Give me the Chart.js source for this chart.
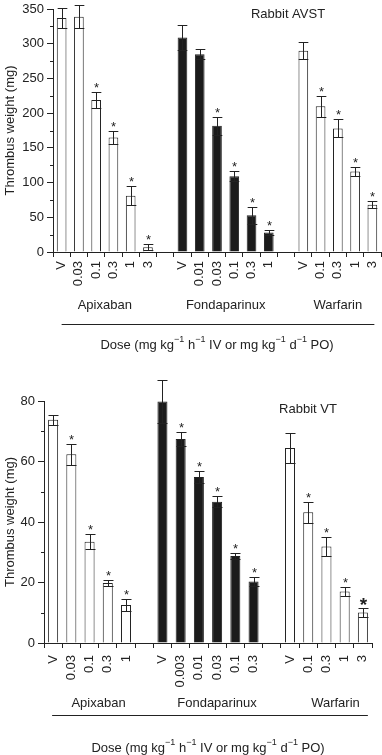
<!DOCTYPE html>
<html>
<head>
<meta charset="utf-8">
<script src="https://cdn.jsdelivr.net/npm/chart.js@4.4.1/dist/chart.umd.min.js"></script>
<style>
  html, body { margin: 0; padding: 0; background: #fff; }
  body { width: 382px; height: 755px; position: relative; overflow: hidden; }
  canvas { position: absolute; left: 0; }
</style>
</head>
<body>
<canvas id="avst" width="382" height="362" style="top:0px"></canvas>
<canvas id="vt" width="382" height="385" style="top:370px"></canvas>
<script>
// ---------- Rabbit AVST (top panel) ----------
const avstGroupNames = ['Apixaban', 'Fondaparinux', 'Warfarin'];
const avstApixabanDoses = ['V', '0.03', '0.1', '0.3', '1', '3'];
const avstApixabanMean  = [337, 339, 219, 165, 81, 7];
const avstApixabanSem   = [15, 17, 12, 10, 14, 4];
const avstApixabanSig   = [0, 0, 1, 1, 1, 1];
const avstFondaDoses = ['V', '0.01', '0.03', '0.1', '0.3', '1'];
const avstFondaMean  = [309, 285, 182, 109, 53, 28];
const avstFondaSem   = [18, 7, 13, 7, 12, 4];
const avstFondaSig   = [0, 0, 1, 1, 1, 1];
const avstWarfDoses = ['V', '0.1', '0.3', '1', '3'];
const avstWarfMean  = [290, 210, 178, 116, 68];
const avstWarfSem   = [12, 15, 13, 7, 5];
const avstWarfSig   = [0, 1, 1, 1, 1];
const avstYTicks = [0, 50, 100, 150, 200, 250, 300, 350];

// ---------- Rabbit VT (bottom panel) ----------
const vtGroupNames = ['Apixaban', 'Fondaparinux', 'Warfarin'];
const vtApixabanDoses = ['V', '0.03', '0.1', '0.3', '1'];
const vtApixabanMean  = [73.8, 62.4, 33.5, 19.8, 12.6];
const vtApixabanSem   = [1.7, 3.5, 2.4, 1.1, 1.9];
const vtApixabanSig   = [0, 1, 1, 1, 1];
const vtFondaDoses = ['V', '0.003', '0.01', '0.03', '0.1', '0.3'];
const vtFondaMean  = [79.8, 67.4, 54.9, 46.7, 28.8, 20.3];
const vtFondaSem   = [7, 2.4, 2.0, 1.9, 0.9, 1.5];
const vtFondaSig   = [0, 1, 1, 1, 1, 1];
const vtWarfDoses = ['V', '0.1', '0.3', '1', '3'];
const vtWarfMean  = [64.5, 43.2, 31.9, 17.0, 10.1];
const vtWarfSem   = [5, 3.5, 3.3, 1.5, 1.4];
const vtWarfSig   = [0, 1, 1, 1, 2];
const vtYTicks = [0, 20, 40, 60, 80];

const yTitle = 'Thrombus weight (mg)';
const FONT = '"Liberation Sans", Arial, Helvetica, sans-serif';
const INK = '#222';

function buildPanel(groups) {
  const labels = [], means = [], sems = [], sigs = [], fills = [], borders = [], ranges = [];
  groups.forEach((g, gi) => {
    if (gi > 0) { labels.push(''); means.push(null); sems.push(null); sigs.push(0); fills.push('#fff'); borders.push(0); }
    const start = labels.length;
    g.doses.forEach((d, i) => {
      labels.push(d); means.push(g.mean[i]); sems.push(g.sem[i]); sigs.push(g.sig[i]);
      fills.push(g.filled ? '#1b1b1b' : '#ffffff');
      borders.push(1);
    });
    ranges.push({ name: g.name, start, end: labels.length - 1 });
  });
  return { labels, means, sems, sigs, fills, borders, ranges };
}

const avstPanel = buildPanel([
  { name: avstGroupNames[0], doses: avstApixabanDoses, mean: avstApixabanMean, sem: avstApixabanSem, sig: avstApixabanSig, filled: false },
  { name: avstGroupNames[1], doses: avstFondaDoses, mean: avstFondaMean, sem: avstFondaSem, sig: avstFondaSig, filled: true },
  { name: avstGroupNames[2], doses: avstWarfDoses, mean: avstWarfMean, sem: avstWarfSem, sig: avstWarfSig, filled: false }
]);
const vtPanel = buildPanel([
  { name: vtGroupNames[0], doses: vtApixabanDoses, mean: vtApixabanMean, sem: vtApixabanSem, sig: vtApixabanSig, filled: false },
  { name: vtGroupNames[1], doses: vtFondaDoses, mean: vtFondaMean, sem: vtFondaSem, sig: vtFondaSig, filled: true },
  { name: vtGroupNames[2], doses: vtWarfDoses, mean: vtWarfMean, sem: vtWarfSem, sig: vtWarfSig, filled: false }
]);

const doseTitle = [
  ['Dose (mg kg', 0], ['\u22121', 1], [' h', 0], ['\u22121', 1], [' IV or mg kg', 0],
  ['\u22121', 1], [' d', 0], ['\u22121', 1], [' PO)', 0]
];

function drawRich(ctx, segs, cx, cy) {
  const big = '13px ' + FONT, small = '9px ' + FONT;
  let w = 0;
  segs.forEach(s => { ctx.font = s[1] ? small : big; w += ctx.measureText(s[0]).width; });
  let x = cx - w / 2;
  ctx.textAlign = 'left';
  ctx.textBaseline = 'middle';
  segs.forEach(s => {
    ctx.font = s[1] ? small : big;
    ctx.fillText(s[0], x, s[1] ? cy - 5 : cy);
    x += ctx.measureText(s[0]).width;
  });
}

function makeChart(id, panel, cfg) {
  const errPlugin = {
    id: 'err_' + id,
    afterDatasetsDraw(chart) {
      const ctx = chart.ctx;
      const meta = chart.getDatasetMeta(0);
      const ys = chart.scales.y;
      ctx.save();
      ctx.strokeStyle = INK;
      ctx.fillStyle = INK;
      ctx.lineWidth = 1;
      panel.means.forEach((m, i) => {
        if (m === null) return;
        const bar = meta.data[i];
        const x = Math.round(bar.x) + 0.5;
        const half = bar.width / 2;
        const yt = Math.round(ys.getPixelForValue(m + panel.sems[i])) + 0.5;
        const yb = Math.round(ys.getPixelForValue(m - panel.sems[i])) + 0.5;
        ctx.beginPath();
        ctx.moveTo(x, yb); ctx.lineTo(x, yt);
        ctx.moveTo(x - half, yt); ctx.lineTo(x + half, yt);
        ctx.moveTo(x - half, yb); ctx.lineTo(x + half, yb);
        ctx.stroke();
        if (panel.sigs[i]) {
          ctx.textAlign = 'center';
          ctx.textBaseline = 'alphabetic';
          if (panel.sigs[i] === 2) {
            ctx.font = 'bold 19px ' + FONT;
            ctx.fillText('*', x, yt + 2);
          } else {
            ctx.font = '13px ' + FONT;
            ctx.fillText('*', x, yt - 1);
          }
        }
      });
      // minor y ticks
      const major = cfg.ticks;
      ctx.beginPath();
      for (let k = 0; k < major.length - 1; k++) {
        const v = (major[k] + major[k + 1]) / 2;
        const y = Math.round(ys.getPixelForValue(v)) + 0.5;
        ctx.moveTo(chart.chartArea.left - 3, y);
        ctx.lineTo(chart.chartArea.left, y);
      }
      ctx.stroke();
      ctx.restore();
    },
    afterDraw(chart) {
      const ctx = chart.ctx;
      const xs = chart.scales.x;
      const bottom = chart.chartArea.bottom;
      ctx.save();
      ctx.fillStyle = INK;
      ctx.strokeStyle = INK;
      ctx.font = '13px ' + FONT;
      ctx.textAlign = 'center';
      ctx.textBaseline = 'middle';
      panel.ranges.forEach(r => {
        const cx = (xs.getPixelForValue(r.start) + xs.getPixelForValue(r.end)) / 2 + cfg.groupDx;
        ctx.fillText(r.name, cx, bottom + cfg.groupDy);
      });
      const x0 = xs.getPixelForValue(0) + cfg.lineDx0;
      const x1 = xs.getPixelForValue(panel.labels.length - 1) + cfg.lineDx1;
      const ly = Math.round(bottom + cfg.lineDy) + 0.5;
      ctx.lineWidth = 1;
      ctx.beginPath(); ctx.moveTo(x0, ly); ctx.lineTo(x1, ly); ctx.stroke();
      const ca = chart.chartArea;
      drawRich(ctx, doseTitle, (ca.left + ca.right) / 2, bottom + cfg.titleDy);
      ctx.font = '13px ' + FONT;
      ctx.textAlign = 'center';
      ctx.fillText(cfg.panelTitle, cfg.panelTitleX, cfg.panelTitleY);
      ctx.restore();
    }
  };

  return new Chart(document.getElementById(id), {
    type: 'bar',
    data: {
      labels: panel.labels,
      datasets: [{
        data: panel.means,
        backgroundColor: panel.fills,
        borderColor: INK,
        borderWidth: panel.borders,
        borderSkipped: 'start',
        barPercentage: cfg.barPct,
        categoryPercentage: 1
      }]
    },
    options: {
      responsive: false,
      animation: false,
      devicePixelRatio: 1,
      layout: { padding: { top: cfg.padTop, right: cfg.padRight, bottom: 0, left: 0 } },
      plugins: { legend: { display: false }, tooltip: { enabled: false }, title: { display: false } },
      scales: {
        x: {
          offset: true,
          grid: { display: true, drawOnChartArea: false, offset: true, tickLength: 5, color: INK, lineWidth: 1 },
          border: { display: true, color: INK, width: 1 },
          ticks: { autoSkip: false, maxRotation: 90, minRotation: 90, padding: cfg.xPad, color: INK, font: { family: FONT, size: 13 } },
          afterFit: s => { s.height = cfg.xHeight; s.paddingLeft = 0; s.paddingRight = 0; }
        },
        y: {
          min: 0, max: cfg.ticks[cfg.ticks.length - 1],
          afterBuildTicks: s => { s.ticks = cfg.ticks.map(v => ({ value: v })); },
          grid: { display: true, drawOnChartArea: false, tickLength: 6, color: INK, lineWidth: 1 },
          border: { display: true, color: INK, width: 1 },
          ticks: { padding: 3, color: INK, font: { family: FONT, size: 13 } },
          title: { display: true, text: yTitle, color: INK, font: { family: FONT, size: 13 }, padding: { top: 3, bottom: 0 } },
          afterFit: s => { s.width = cfg.yWidth; s.paddingTop = 0; s.paddingBottom = 0; }
        }
      }
    },
    plugins: [errPlugin]
  });
}

makeChart('avst', avstPanel, {
  ticks: avstYTicks, barPct: 0.56, padTop: 9, padRight: 1, xHeight: 110, yWidth: 53, xPad: 4,
  groupDx: 0, groupDy: 53, lineDx0: 0, lineDx1: 2, lineDy: 72, titleDy: 93,
  panelTitle: 'Rabbit AVST', panelTitleX: 288, panelTitleY: 14
});
makeChart('vt', vtPanel, {
  ticks: vtYTicks, barPct: 0.55, padTop: 31, padRight: 10, xHeight: 112, yWidth: 44, xPad: 7,
  groupDx: 9, groupDy: 60, lineDx0: -1, lineDx1: 5, lineDy: 72, titleDy: 105,
  panelTitle: 'Rabbit VT', panelTitleX: 308, panelTitleY: 39
});
</script>
</body>
</html>
